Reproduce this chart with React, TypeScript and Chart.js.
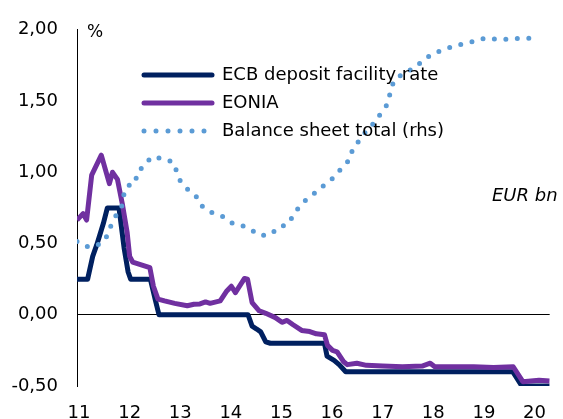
import React, { useEffect, useRef } from 'react';
import { Chart, registerables } from 'chart.js';

Chart.register(...registerables);

// x positions are decimal years
const yearTicks = [2011, 2012, 2013, 2014, 2015, 2016, 2017, 2018, 2019, 2020];
const yTicks = [-0.5, 0, 0.5, 1, 1.5, 2];

const seriesLabels = ['ECB deposit facility rate', 'EONIA', 'Balance sheet total (rhs)'];

const depositX = [2010.96, 2011.17, 2011.27, 2011.35, 2011.48, 2011.56, 2011.79, 2011.89, 2011.97, 2012.02, 2012.41, 2012.51, 2012.58, 2014.34, 2014.42, 2014.51, 2014.59, 2014.69, 2014.78, 2015.85, 2015.9, 2016.04, 2016.14, 2016.27, 2019.57, 2019.75, 2020.3];
const depositY = [0.25, 0.25, 0.41, 0.49, 0.64, 0.75, 0.75, 0.47, 0.3, 0.25, 0.25, 0.1, 0.0, 0.0, -0.08, -0.1, -0.12, -0.19, -0.2, -0.2, -0.29, -0.32, -0.35, -0.4, -0.4, -0.5, -0.5];

const eoniaX = [2010.96, 2011.08, 2011.15, 2011.25, 2011.44, 2011.6, 2011.66, 2011.76, 2011.86, 2011.95, 2012.0, 2012.06, 2012.4, 2012.47, 2012.56, 2012.69, 2012.89, 2013.14, 2013.27, 2013.39, 2013.5, 2013.59, 2013.79, 2013.92, 2014.01, 2014.09, 2014.27, 2014.33, 2014.42, 2014.56, 2014.69, 2014.88, 2015.01, 2015.11, 2015.23, 2015.4, 2015.56, 2015.69, 2015.85, 2015.91, 2016.01, 2016.1, 2016.23, 2016.3, 2016.49, 2016.68, 2017.0, 2017.39, 2017.78, 2017.94, 2018.03, 2018.8, 2019.19, 2019.58, 2019.77, 2020.09, 2020.3];
const eoniaY = [0.665, 0.71, 0.665, 0.98, 1.12, 0.92, 1.0, 0.95, 0.77, 0.58, 0.41, 0.37, 0.33, 0.2, 0.11, 0.097, 0.08, 0.063, 0.074, 0.076, 0.09, 0.08, 0.097, 0.167, 0.2, 0.155, 0.255, 0.25, 0.085, 0.028, 0.01, -0.02, -0.053, -0.04, -0.07, -0.11, -0.118, -0.134, -0.14, -0.215, -0.25, -0.26, -0.33, -0.35, -0.34, -0.355, -0.36, -0.365, -0.36, -0.34, -0.365, -0.365, -0.37, -0.365, -0.47, -0.46, -0.465];

// EUR bn
const balanceX = [2010.96, 2011.19, 2011.41, 2011.56, 2011.64, 2011.74, 2011.86, 2011.89, 2011.97, 2012.11, 2012.15, 2012.29, 2012.43, 2012.65, 2012.86, 2013.01, 2013.17, 2013.34, 2013.45, 2013.64, 2013.85, 2014.04, 2014.24, 2014.4, 2014.59, 2014.8, 2014.94, 2015.13, 2015.25, 2015.38, 2015.52, 2015.7, 2015.87, 2016.05, 2016.19, 2016.35, 2016.41, 2016.55, 2016.69, 2016.85, 2016.98, 2017.11, 2017.15, 2017.22, 2017.39, 2017.6, 2017.78, 2017.96, 2018.16, 2018.38, 2018.6, 2018.82, 2019.03, 2019.24, 2019.47, 2019.71, 2019.92, 2020.11];
const balanceY = [2030, 1950, 1990, 2110, 2270, 2405, 2545, 2705, 2815, 2845, 3000, 3095, 3215, 3195, 3140, 2860, 2745, 2645, 2505, 2430, 2375, 2280, 2245, 2190, 2110, 2130, 2230, 2270, 2415, 2545, 2635, 2730, 2835, 2935, 3060, 3180, 3335, 3455, 3595, 3705, 3845, 3970, 4130, 4280, 4380, 4455, 4555, 4655, 4710, 4765, 4805, 4840, 4885, 4870, 4865, 4880, 4880, 4905];

const C_DEP = '#002060';
const C_EON = '#7030A0';
const C_BAL = '#5B9BD5';
const FONT = 'DejaVu Sans';

const toPoints = (xs: number[], ys: number[]) => xs.map((x, i) => ({ x, y: ys[i] }));

export default function App() {
  const ref = useRef<HTMLCanvasElement>(null);

  useEffect(() => {
    if (!ref.current) return;
    const overlay = {
      id: 'overlay',
      afterDraw(chart: any) {
        const ctx = chart.ctx as CanvasRenderingContext2D;
        ctx.save();
        const rows = [
          { y: 75, color: C_DEP, dash: [] as number[], width: 5 },
          { y: 103, color: C_EON, dash: [] as number[], width: 5 },
          { y: 131, color: C_BAL, dash: [0, 12], width: 5 },
        ];
        rows.forEach((r, i) => {
          ctx.beginPath();
          ctx.strokeStyle = r.color;
          ctx.lineWidth = r.width;
          ctx.lineCap = 'round';
          ctx.setLineDash(r.dash);
          ctx.moveTo(144, r.y);
          ctx.lineTo(r.dash.length ? 216 : 212, r.y);
          ctx.stroke();
          ctx.setLineDash([]);
          ctx.fillStyle = '#000';
          ctx.font = `18px "${FONT}"`;
          ctx.textBaseline = 'middle';
          ctx.textAlign = 'left';
          ctx.fillText(chart.data.datasets[i].label, 222, r.y);
        });
        ctx.font = `17px "${FONT}"`;
        ctx.fillText('%', 87, 33);
        ctx.font = `italic 18px "${FONT}"`;
        ctx.fillText('EUR bn', 492, 196);
        ctx.restore();
      },
    };

    const chart = new Chart(ref.current, {
      type: 'line',
      data: {
        datasets: [
          {
            label: seriesLabels[0],
            data: toPoints(depositX, depositY),
            borderColor: C_DEP,
            borderWidth: 5,
            pointRadius: 0,
            borderJoinStyle: 'round',
            yAxisID: 'y',
            order: 3,
          },
          {
            label: seriesLabels[1],
            data: toPoints(eoniaX, eoniaY),
            borderColor: C_EON,
            borderWidth: 5,
            pointRadius: 0,
            borderJoinStyle: 'round',
            yAxisID: 'y',
            order: 2,
          },
          {
            label: seriesLabels[2],
            data: toPoints(balanceX, balanceY),
            borderColor: C_BAL,
            borderWidth: 5,
            borderDash: [0, 11.5],
            borderCapStyle: 'round',
            pointRadius: 0,
            yAxisID: 'y1',
            order: 1,
          },
        ],
      },
      options: {
        responsive: false,
        animation: false,
        devicePixelRatio: 1,
        layout: { padding: { top: 26, right: 2, left: 0, bottom: 0 } },
        plugins: { legend: { display: false }, tooltip: { enabled: false } },
        scales: {
          x: {
            type: 'linear',
            min: 2010.96,
            max: 2020.3,
            afterBuildTicks: (s: any) => {
              s.ticks = yearTicks.map((v) => ({ value: v }));
            },
            afterFit: (s: any) => {
              s.height = 33;
            },
            ticks: {
              autoSkip: false,
              maxRotation: 0,
              padding: 17,
              color: '#000',
              font: { family: FONT, size: 18 },
              callback: (v: any) => String(v).slice(2),
            },
            grid: { display: false, drawTicks: false },
            border: { display: false },
          },
          y: {
            position: 'left',
            min: -0.5,
            max: 2,
            afterBuildTicks: (s: any) => {
              s.ticks = yTicks.map((v) => ({ value: v }));
            },
            afterFit: (s: any) => {
              s.width = 77;
            },
            ticks: {
              padding: 19,
              color: '#000',
              font: { family: FONT, size: 18 },
              callback: (v: any) => Number(v).toFixed(2).replace('.', ','),
            },
            grid: {
              drawTicks: false,
              lineWidth: 1,
              color: (c: any) => (c.tick && c.tick.value === 0 ? '#000' : 'rgba(0,0,0,0)'),
            },
            border: { display: true, color: '#000', width: 1 },
          },
          y1: {
            position: 'right',
            display: false,
            min: 0,
            max: 5000,
          },
        },
      },
      plugins: [overlay],
    });
    return () => chart.destroy();
  }, []);

  return (
    <div style={{ position: 'absolute', left: 0, top: 0, width: 563, height: 419, background: '#fff' }}>
      <canvas ref={ref} width={563} height={419} style={{ display: 'block' }} />
    </div>
  );
}
